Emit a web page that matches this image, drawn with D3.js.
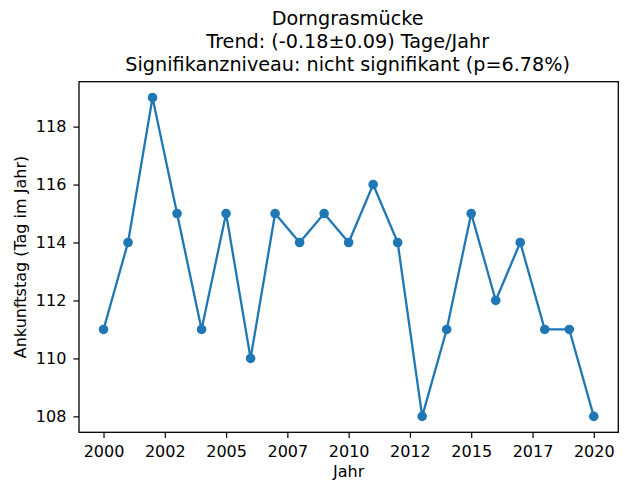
<!DOCTYPE html>
<html>
<head>
<meta charset="utf-8">
<script src="https://cdn.jsdelivr.net/npm/d3@7"></script>
<style>
  html, body { margin: 0; padding: 0; background: #fff; }
  svg { display: block; font-family: "DejaVu Sans", sans-serif; }
</style>
</head>
<body>
<svg id="chart" width="625" height="485"></svg>
<script>
// Arrival day of the common whitethroat per year
const years = [2000, 2001, 2002, 2003, 2004, 2005, 2006, 2007, 2008, 2009, 2010,
               2011, 2012, 2013, 2014, 2015, 2016, 2017, 2018, 2019, 2020];
const arrivalDay = [111, 114, 119, 115, 111, 115, 110, 115, 114, 115, 114,
                    116, 114, 108, 111, 115, 112, 114, 111, 111, 108];

const xTickValues = [2000, 2002.5, 2005, 2007.5, 2010, 2012.5, 2015, 2017.5, 2020];
const xTickLabels = ["2000", "2002", "2005", "2007", "2010", "2012", "2015", "2017", "2020"];
const yTickValues = [108, 110, 112, 114, 116, 118];

const titleLines = [
  "Dorngrasmücke",
  "Trend: (-0.18±0.09) Tage/Jahr",
  "Signifikanzniveau: nicht signifikant (p=6.78%)"
];
const xLabel = "Jahr";
const yLabel = "Ankunftstag (Tag im Jahr)";

const color = "#1f77b4";
const plot = { left: 79, right: 618.3, top: 81.7, bottom: 432.3 };

const svg = d3.select("#chart");

// 5% padding on each side of the data range
const xExt = d3.extent(years), yExt = d3.extent(arrivalDay);
const xPad = (xExt[1] - xExt[0]) * 0.05, yPad = (yExt[1] - yExt[0]) * 0.05;
const x = d3.scaleLinear().domain([xExt[0] - xPad, xExt[1] + xPad]).range([plot.left, plot.right]);
const y = d3.scaleLinear().domain([yExt[0] - yPad, yExt[1] + yPad]).range([plot.bottom, plot.top]);

// Axes
const xAxis = d3.axisBottom(x)
  .tickValues(xTickValues)
  .tickFormat((d, i) => xTickLabels[i])
  .tickSize(5.6).tickPadding(7.4);
const yAxis = d3.axisLeft(y)
  .tickValues(yTickValues)
  .tickFormat(d3.format("d"))
  .tickSize(5.6).tickPadding(7);

const gx = svg.append("g").attr("transform", `translate(0,${plot.bottom})`).call(xAxis);
const gy = svg.append("g").attr("transform", `translate(${plot.left},0)`).call(yAxis);
[gx, gy].forEach(g => {
  g.select(".domain").remove();
  g.selectAll(".tick line").attr("stroke", "#000").attr("stroke-width", 1.2);
  g.selectAll(".tick text").attr("fill", "#000")
    .style("font-family", "'DejaVu Sans', sans-serif").style("font-size", "16px");
});

// Frame
svg.append("rect")
  .attr("x", plot.left).attr("y", plot.top)
  .attr("width", plot.right - plot.left).attr("height", plot.bottom - plot.top)
  .attr("fill", "none").attr("stroke", "#000").attr("stroke-width", 1.3);

// Series line and markers
const pts = years.map((yr, i) => [yr, arrivalDay[i]]);
svg.append("path")
  .datum(pts)
  .attr("fill", "none")
  .attr("stroke", color)
  .attr("stroke-width", 2.3)
  .attr("stroke-linejoin", "round")
  .attr("d", d3.line().x(d => x(d[0])).y(d => y(d[1])));
svg.append("g").selectAll("circle")
  .data(pts).join("circle")
  .attr("cx", d => x(d[0])).attr("cy", d => y(d[1]))
  .attr("r", 4.8).attr("fill", color);

// Title
const cx = (plot.left + plot.right) / 2;
svg.append("g").selectAll("text")
  .data(titleLines).join("text")
  .attr("x", cx - 1).attr("y", (d, i) => 25 + i * 23)
  .attr("text-anchor", "middle")
  .style("font-size", "19.2px")
  .attr("fill", "#000")
  .text(d => d);

// Axis labels
svg.append("text")
  .attr("x", cx).attr("y", 476.7)
  .attr("text-anchor", "middle")
  .style("font-size", "16px").attr("fill", "#000")
  .text(xLabel);
svg.append("text")
  .attr("transform", `translate(26,${(plot.top + plot.bottom) / 2}) rotate(-90)`)
  .attr("text-anchor", "middle")
  .style("font-size", "16px").attr("fill", "#000")
  .text(yLabel);
</script>
</body>
</html>
